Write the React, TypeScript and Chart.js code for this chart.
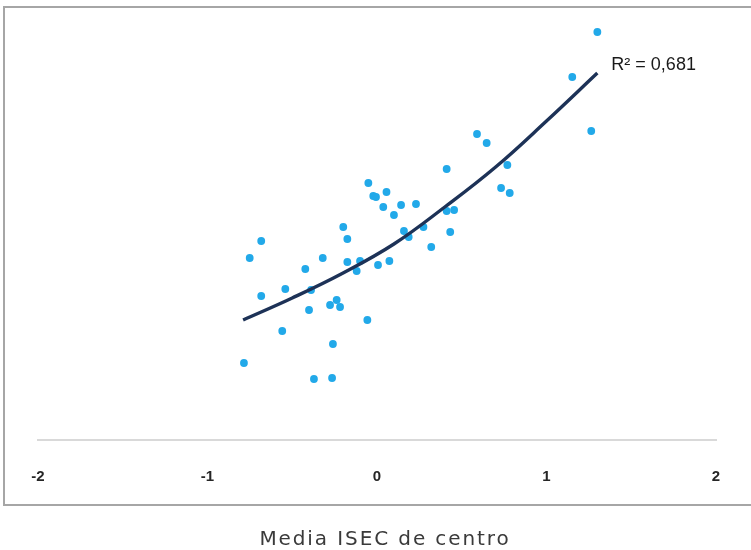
import React, { useEffect, useRef } from "react";
import { Chart, registerables } from "chart.js";

Chart.register(...registerables);

// Scatter points: x = Media ISEC de centro, y = result (unlabelled axis)
const pointX = [
  1.3, 1.152, 1.264, 0.59, 0.647, 0.411, 0.769, 0.732, 0.783, -0.051,
  0.056, -0.022, -0.006, 0.037, 0.1, 0.142, 0.23, 0.411, 0.455, 0.274,
  0.432, 0.159, 0.187, 0.32, -0.199, -0.175, -0.683, -0.751, -0.32, -0.175,
  -0.1, -0.12, 0.006, 0.073, -0.423, -0.541, -0.389, -0.683, -0.277, -0.238,
  -0.218, -0.401, -0.559, -0.057, -0.26, -0.785, -0.372, -0.265,
];
const pointY = [
  4.08, 3.63, 3.09, 3.06, 2.97, 2.71, 2.75, 2.52, 2.47, 2.57,
  2.48, 2.44, 2.43, 2.33, 2.25, 2.35, 2.36, 2.29, 2.3, 2.13,
  2.08, 2.09, 2.03, 1.93, 2.13, 2.01, 1.99, 1.82, 1.82, 1.78,
  1.79, 1.69, 1.75, 1.79, 1.71, 1.51, 1.5, 1.44, 1.35, 1.4,
  1.33, 1.3, 1.09, 1.2, 0.96, 0.77, 0.61, 0.62,
];

// Polynomial trend line
const trendX = [-0.79, -0.5, -0.2, 0.1, 0.4, 0.7, 1.0, 1.3];
const trendY = [1.2, 1.42, 1.67, 1.96, 2.33, 2.73, 3.19, 3.67];

const xTicks = [-2, -1, 0, 1, 2];
const r2Label = "R² = 0,681";
const xTitle = "Media ISEC de centro";

export default function App() {
  const ref = useRef<HTMLCanvasElement | null>(null);

  useEffect(() => {
    if (!ref.current) return;
    const labelPlugin = {
      id: "labels",
      afterDatasetsDraw(chart: any) {
        const { ctx, scales } = chart;
        const xs = scales.x;
        const ys = scales.y;
        const lx = xs.getPixelForValue(trendX[trendX.length - 1]) + 14;
        const ly = ys.getPixelForValue(trendY[trendY.length - 1]) - 8;
        ctx.save();
        ctx.font = '18px "Liberation Sans", Arial, sans-serif';
        ctx.fillStyle = "#1a1a1a";
        ctx.textAlign = "left";
        ctx.textBaseline = "middle";
        ctx.fillText(r2Label, lx, ly);
        ctx.restore();

        ctx.save();
        ctx.font = '20px "DejaVu Sans", sans-serif';
        (ctx as any).letterSpacing = "1.9px";
        ctx.fillStyle = "#3a3a3a";
        ctx.textAlign = "center";
        ctx.textBaseline = "middle";
        ctx.fillText(xTitle, 385, 540);
        ctx.restore();
      },
    };

    const chart = new Chart(ref.current, {
      type: "scatter",
      data: {
        datasets: [
          {
            type: "line",
            label: "Tendencia",
            data: trendX.map((x, i) => ({ x, y: trendY[i] })),
            borderColor: "#1d3257",
            borderWidth: 3.4,
            pointRadius: 0,
            tension: 0.4,
            fill: false,
            order: 0,
          } as any,
          {
            label: "Centros",
            data: pointX.map((x, i) => ({ x, y: pointY[i] })),
            backgroundColor: "#22a9e9",
            borderColor: "#22a9e9",
            borderWidth: 0,
            pointRadius: 3.9,
            order: 1,
          },
        ],
      },
      options: {
        responsive: false,
        animation: false,
        layout: { padding: { left: 38, right: 35, top: 20, bottom: 0 } },
        plugins: {
          legend: { display: false },
          tooltip: { enabled: false },
        },
        scales: {
          x: {
            type: "linear",
            min: -2,
            max: 2,
            afterBuildTicks: (s: any) => {
              s.ticks = xTicks.map((v) => ({ value: v }));
            },
            grid: { display: false, drawTicks: false },
            border: { display: true, color: "#d9d9d9", width: 2 },
            ticks: {
              padding: 28,
              color: "#262626",
              font: {
                family: '"Liberation Sans Narrow", "Liberation Sans", Arial, sans-serif',
                size: 15,
                weight: "bold",
              },
              callback: (v: any) => String(v),
            },
            afterFit: (s: any) => {
              s.height = 110;
            },
          },
          y: {
            type: "linear",
            min: 0,
            max: 4.2,
            display: false,
          },
        },
      },
      plugins: [labelPlugin],
    });
    return () => chart.destroy();
  }, []);

  return (
    <div style={{ position: "fixed", left: 0, top: 0, width: 751, height: 550, background: "#fff", overflow: "hidden" }}>
      <div
        style={{
          position: "absolute",
          left: 3,
          top: 6,
          width: 780,
          height: 496,
          border: "2px solid #a6a6a6",
        }}
      />
      <canvas ref={ref} width={751} height={550} style={{ position: "absolute", left: 0, top: 0 }} />
    </div>
  );
}
